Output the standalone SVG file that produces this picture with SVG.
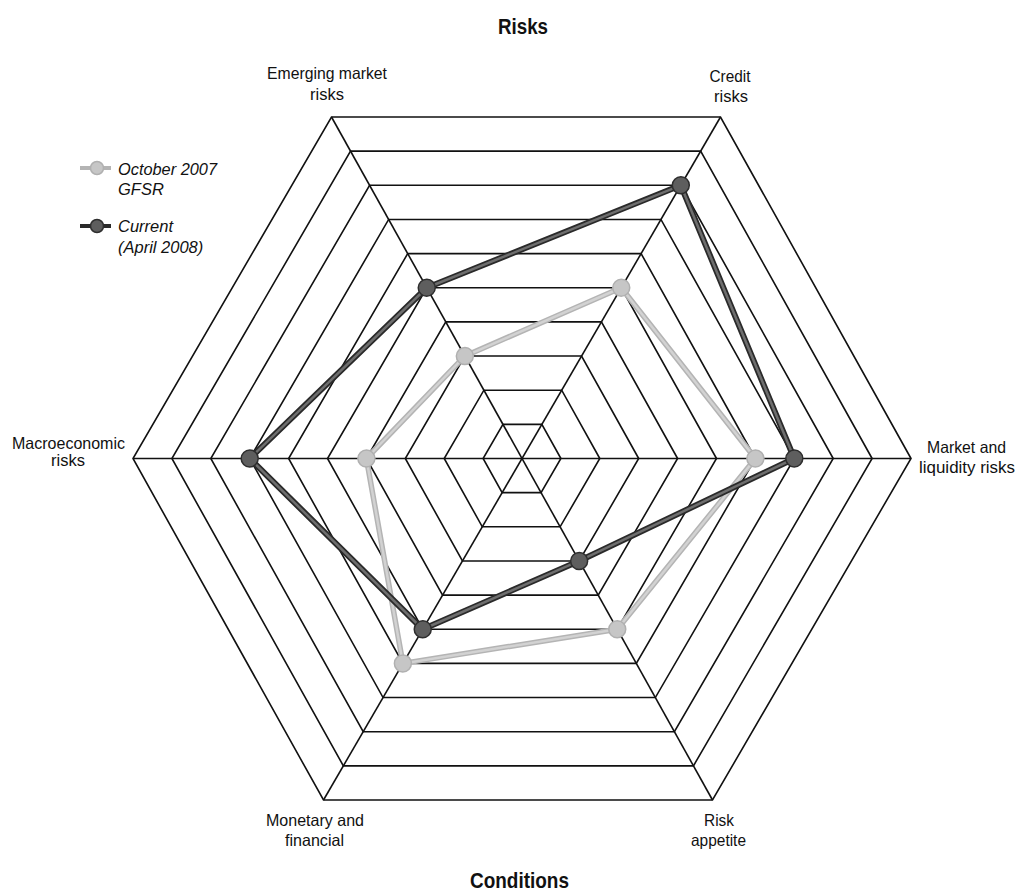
<svg xmlns="http://www.w3.org/2000/svg" width="1016" height="891" viewBox="0 0 1016 891">
<style>
.ring{fill:none;stroke:#111;stroke-width:1.6;stroke-linejoin:miter}
.axis{stroke:#111;stroke-width:1.6}
.lbl{font-family:"Liberation Sans",Arial,sans-serif;font-size:16.5px;fill:#111;text-anchor:middle}
.leg{font-family:"Liberation Sans",Arial,sans-serif;font-size:16.5px;font-style:italic;fill:#111}
.ttl{font-family:"Liberation Sans",Arial,sans-serif;font-size:22px;font-weight:bold;fill:#111;text-anchor:middle}
.oldO{fill:none;stroke:#b4b4b4;stroke-width:5.5;stroke-linejoin:round}
.oldI{fill:none;stroke:#d2d2d2;stroke-width:2.5;stroke-linejoin:round}
.curO{fill:none;stroke:#2a2a2a;stroke-width:6;stroke-linejoin:round}
.curI{fill:none;stroke:#6e6e6e;stroke-width:2.5;stroke-linejoin:round}
.oldDot{fill:#c6c6c6;stroke:#b0b0b0;stroke-width:1.5}
.curDot{fill:#5e5e5e;stroke:#2e2e2e;stroke-width:1.5}
</style>
<rect width="1016" height="891" fill="#ffffff"/>
<g id="chart" transform="matrix(1 0 -0.0117 1 522 458.5)">
<g id="grid">
<polygon class="ring" points="38.9,0 19.45,-34.15 -19.45,-34.15 -38.9,0 -19.45,34.15 19.45,34.15"/>
<polygon class="ring" points="77.8,0 38.9,-68.3 -38.9,-68.3 -77.8,0 -38.9,68.3 38.9,68.3"/>
<polygon class="ring" points="116.7,0 58.35,-102.45 -58.35,-102.45 -116.7,0 -58.35,102.45 58.35,102.45"/>
<polygon class="ring" points="155.6,0 77.8,-136.6 -77.8,-136.6 -155.6,0 -77.8,136.6 77.8,136.6"/>
<polygon class="ring" points="194.5,0 97.25,-170.75 -97.25,-170.75 -194.5,0 -97.25,170.75 97.25,170.75"/>
<polygon class="ring" points="233.4,0 116.7,-204.9 -116.7,-204.9 -233.4,0 -116.7,204.9 116.7,204.9"/>
<polygon class="ring" points="272.3,0 136.15,-239.05 -136.15,-239.05 -272.3,0 -136.15,239.05 136.15,239.05"/>
<polygon class="ring" points="311.2,0 155.6,-273.2 -155.6,-273.2 -311.2,0 -155.6,273.2 155.6,273.2"/>
<polygon class="ring" points="350.1,0 175.05,-307.35 -175.05,-307.35 -350.1,0 -175.05,307.35 175.05,307.35"/>
<polygon class="ring" points="389,0 194.5,-341.5 -194.5,-341.5 -389,0 -194.5,341.5 194.5,341.5"/>
<line class="axis" x1="-389" y1="0" x2="389" y2="0"/>
<line class="axis" x1="-194.5" y1="-341.5" x2="194.5" y2="341.5"/>
<line class="axis" x1="194.5" y1="-341.5" x2="-194.5" y2="341.5"/>
</g>
<g id="series-oct2007">
<polygon class="oldO" points="97.25,-170.75 233.4,0 97.25,170.75 -116.7,204.9 -155.6,0 -58.35,-102.45"/>
<polygon class="oldI" points="97.25,-170.75 233.4,0 97.25,170.75 -116.7,204.9 -155.6,0 -58.35,-102.45"/>
<circle class="oldDot" cx="97.25" cy="-170.75" r="8.5"/>
<circle class="oldDot" cx="233.4" cy="0" r="8.5"/>
<circle class="oldDot" cx="97.25" cy="170.75" r="8.5"/>
<circle class="oldDot" cx="-116.7" cy="204.9" r="8.5"/>
<circle class="oldDot" cx="-155.6" cy="0" r="8.5"/>
<circle class="oldDot" cx="-58.35" cy="-102.45" r="8.5"/>
</g>
<g id="series-current">
<polygon class="curO" points="155.6,-273.2 272.3,0 58.35,102.45 -97.25,170.75 -272.3,0 -97.25,-170.75"/>
<polygon class="curI" points="155.6,-273.2 272.3,0 58.35,102.45 -97.25,170.75 -272.3,0 -97.25,-170.75"/>
<circle class="curDot" cx="155.6" cy="-273.2" r="8.5"/>
<circle class="curDot" cx="272.3" cy="0" r="8.5"/>
<circle class="curDot" cx="58.35" cy="102.45" r="8.5"/>
<circle class="curDot" cx="-97.25" cy="170.75" r="8.5"/>
<circle class="curDot" cx="-272.3" cy="0" r="8.5"/>
<circle class="curDot" cx="-97.25" cy="-170.75" r="8.5"/>
</g>
</g>
<g id="labels">
<text class="ttl" x="523" y="34" textLength="50" lengthAdjust="spacingAndGlyphs">Risks</text>
<text class="ttl" x="519.5" y="888" textLength="99" lengthAdjust="spacingAndGlyphs">Conditions</text>
<g id="label-emerging"><text class="lbl" x="327" y="79" textLength="120" lengthAdjust="spacingAndGlyphs">Emerging market</text><text class="lbl" x="327" y="100">risks</text></g>
<g id="label-credit"><text class="lbl" x="730" y="82" textLength="41" lengthAdjust="spacingAndGlyphs">Credit</text><text class="lbl" x="731" y="102">risks</text></g>
<g id="label-macro"><text class="lbl" x="68.5" y="449" textLength="113" lengthAdjust="spacingAndGlyphs">Macroeconomic</text><text class="lbl" x="68" y="466">risks</text></g>
<g id="label-market"><text class="lbl" x="966.5" y="453" textLength="79" lengthAdjust="spacingAndGlyphs">Market and</text><text class="lbl" x="967" y="473" textLength="96" lengthAdjust="spacingAndGlyphs">liquidity risks</text></g>
<g id="label-monetary"><text class="lbl" x="315" y="826" textLength="98" lengthAdjust="spacingAndGlyphs">Monetary and</text><text class="lbl" x="314.5" y="846" textLength="59" lengthAdjust="spacingAndGlyphs">financial</text></g>
<g id="label-risk"><text class="lbl" x="719" y="826" textLength="30" lengthAdjust="spacingAndGlyphs">Risk</text><text class="lbl" x="718.5" y="846" textLength="55" lengthAdjust="spacingAndGlyphs">appetite</text></g>
</g>
<g id="legend">
<g id="legend-oct">
<line x1="80" y1="168" x2="111" y2="168" stroke="#b4b4b4" stroke-width="4"/>
<circle class="oldDot" cx="97" cy="168" r="6.5"/>
<text class="leg" x="118" y="175" textLength="99" lengthAdjust="spacingAndGlyphs">October 2007</text>
<text class="leg" x="118" y="195">GFSR</text>
</g>
<g id="legend-cur">
<line x1="80" y1="226" x2="111" y2="226" stroke="#2a2a2a" stroke-width="4"/>
<circle class="curDot" cx="97" cy="226" r="6.5"/>
<text class="leg" x="118" y="232">Current</text>
<text class="leg" x="118" y="253">(April 2008)</text>
</g>
</g>
</svg>
